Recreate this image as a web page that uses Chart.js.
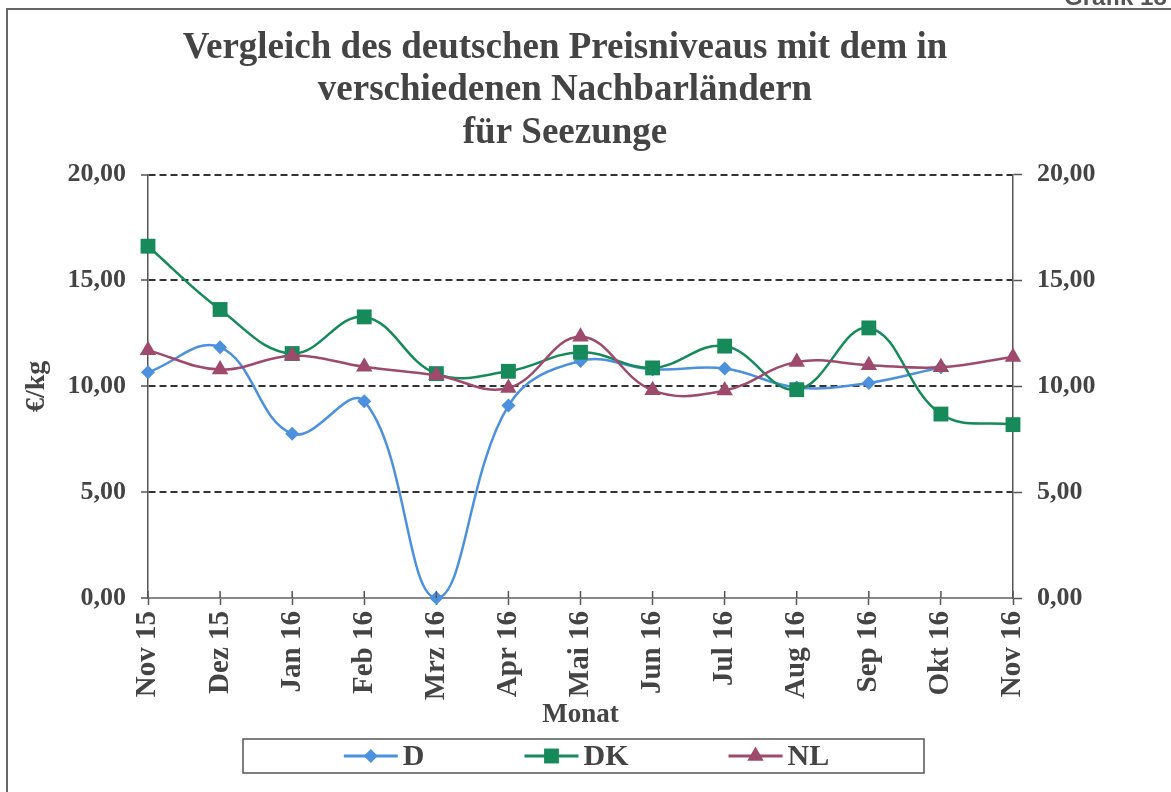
<!DOCTYPE html>
<html>
<head>
<meta charset="utf-8">
<script src="https://cdn.jsdelivr.net/npm/chart.js@4.4.0/dist/chart.umd.min.js"></script>
<style>
  body { margin: 0; background: #fff; }
  #wrap { width: 1171px; height: 792px; }
</style>
</head>
<body>
<div id="wrap"><canvas id="chart" width="1171" height="792"></canvas></div>
<script>
const months = ['Nov 15', 'Dez 15', 'Jan 16', 'Feb 16', 'Mrz 16', 'Apr 16', 'Mai 16', 'Jun 16', 'Jul 16', 'Aug 16', 'Sep 16', 'Okt 16', 'Nov 16'];
const priceD  = [10.66, 11.85, 7.76, 9.29, 0.00, 9.09, 11.20, 10.80, 10.84, 9.95, 10.16, 10.90, null];
const priceDK = [16.62, 13.63, 11.55, 13.28, 10.60, 10.71, 11.61, 10.87, 11.90, 9.84, 12.76, 8.69, 8.19];
const priceNL = [11.70, 10.79, 11.45, 10.92, 10.52, 9.92, 12.34, 9.81, 9.80, 11.15, 11.00, 10.90, 11.39];
const yTicks = [0, 5, 10, 15, 20];

const serif = '"Liberation Serif", "Times New Roman", serif';
const txt = '#444';
const fmt = v => v.toFixed(2).replace('.', ',');

// page frame + cut-off caption at the top
const frame = {
    id: 'frame',
    beforeDraw(chart) {
        const c = chart.ctx;
        c.save();
        c.fillStyle = '#fff';
        c.fillRect(0, 0, chart.width, chart.height);
        c.strokeStyle = '#666';
        c.lineWidth = 2;
        c.beginPath();
        c.moveTo(7, chart.height);
        c.lineTo(7, 9);
        c.lineTo(chart.width, 9);
        c.stroke();
        c.fillStyle = '#555';
        c.font = 'bold 24px "Liberation Sans", Arial, sans-serif';
        c.textBaseline = 'alphabetic';
        c.fillText('Grafik 18', 1064, 5);
        c.restore();
    }
};

// short tick marks above the x axis too (they cross the axis in the original)
const xTicksUp = {
    id: 'xTicksUp',
    afterDatasetsDraw(chart) {
        const x = chart.scales.x, c = chart.ctx, b = chart.chartArea.bottom;
        c.save();
        c.strokeStyle = '#555';
        c.lineWidth = 1.5;
        c.beginPath();
        x.ticks.forEach((t, i) => {
            const px = x.getPixelForTick(i);
            c.moveTo(px, b - 7); c.lineTo(px, b);
        });
        c.stroke();
        c.restore();
    }
};

function marker(c, style, x, y, r) {
    c.beginPath();
    if (style === 'rectRot') {
        c.moveTo(x, y - r); c.lineTo(x + r, y); c.lineTo(x, y + r); c.lineTo(x - r, y);
    } else if (style === 'rect') {
        const s = r * Math.SQRT1_2;
        c.rect(x - s, y - s, 2 * s, 2 * s);
    } else {
        c.moveTo(x, y - r); c.lineTo(x + r * 0.866, y + r / 2); c.lineTo(x - r * 0.866, y + r / 2);
    }
    c.closePath();
    c.fill();
}

// legend box with line + marker samples
const boxLegend = {
    id: 'boxLegend',
    afterDraw(chart) {
        const c = chart.ctx;
        const top = chart.height - 53, h = 34, w = 681;
        const cx = chart.width / 2 - 2, cy = top + h / 2;
        c.save();
        c.strokeStyle = '#555';
        c.lineWidth = 1.5;
        c.strokeRect(cx - w / 2, top, w, h);
        c.font = 'bold 30px ' + serif;
        c.textBaseline = 'middle';
        const items = [0, 1, 2].map(i => chart.data.datasets[i]);
        const lineLen = 54, gap = 5, itemGap = 100;
        const widths = items.map(d => lineLen + gap + c.measureText(d.label).width);
        let x = cx - (widths.reduce((a, b) => a + b, 0) + itemGap * (items.length - 1)) / 2 + 3;
        items.forEach((d, i) => {
            c.strokeStyle = d.borderColor;
            c.lineWidth = 3;
            c.beginPath();
            c.moveTo(x, cy); c.lineTo(x + lineLen, cy);
            c.stroke();
            c.fillStyle = d.pointBackgroundColor;
            marker(c, d.pointStyle, x + lineLen / 2, cy, d.pointRadius);
            c.fillStyle = txt;
            c.fillText(d.label, x + lineLen + gap, cy + 1);
            x += widths[i] + itemGap;
        });
        c.restore();
    }
};

new Chart(document.getElementById('chart'), {
    type: 'line',
    data: {
        labels: months,
        datasets: [
            { label: 'D', data: priceD, borderColor: '#4d90de', pointBackgroundColor: '#4d90de', pointBorderWidth: 0,
              pointStyle: 'rectRot', pointRadius: 7, borderWidth: 2.5, tension: 0.4, clip: false, order: 3 },
            { label: 'DK', data: priceDK, borderColor: '#178a5b', pointBackgroundColor: '#178a5b', pointBorderWidth: 0,
              pointStyle: 'rect', pointRadius: 10.5, borderWidth: 2.5, tension: 0.4, clip: false, order: 2 },
            { label: 'NL', data: priceNL, borderColor: '#9d4a6d', pointBackgroundColor: '#9d4a6d', pointBorderWidth: 0,
              pointStyle: 'triangle', pointRadius: 9.5, borderWidth: 2.5, tension: 0.4, clip: false, order: 1 }
        ]
    },
    options: {
        responsive: false,
        animation: false,
        layout: { padding: { left: 8, right: 49, top: 0, bottom: 54 } },
        plugins: {
            legend: { display: false },
            tooltip: { enabled: false },
            title: {
                display: true,
                text: ['Vergleich des deutschen Preisniveaus mit dem in', 'verschiedenen Nachbarländern', 'für Seezunge'],
                color: txt,
                font: { family: serif, size: 37, weight: 'bold', lineHeight: 1.15 },
                padding: { top: 27, bottom: 20 }
            }
        },
        scales: {
            x: {
                offset: false,
                grid: { drawOnChartArea: false, tickLength: 7, color: '#555', tickColor: '#555', tickWidth: 1.5 },
                border: { color: '#888', width: 2 },
                ticks: { minRotation: 90, maxRotation: 90, autoSkip: false, padding: 6, color: txt,
                         font: { family: serif, size: 29, weight: 'bold' } },
                title: { display: true, text: 'Monat', color: txt, padding: { top: 0, bottom: 7 },
                         font: { family: serif, size: 27, weight: 'bold' } },
                afterFit(s) { s.height = 140; }
            },
            y: {
                position: 'left',
                min: 0, max: 20,
                afterBuildTicks(s) { s.ticks = yTicks.map(v => ({ value: v })); },
                ticks: { padding: 15, color: txt, callback: v => fmt(v),
                         font: { family: serif, size: 26, weight: 'bold' } },
                grid: { color: ctx => (ctx.tick && ctx.tick.value === 0) ? 'rgba(0,0,0,0)' : '#333',
                        lineWidth: 2, tickLength: 7, tickColor: '#555', tickWidth: 1.5 },
                border: { color: '#555', width: 1.5, dash: [7, 4] },
                title: { display: true, text: '€/kg', color: txt, padding: { top: 12, bottom: 0 },
                         font: { family: serif, size: 28, weight: 'bold' } },
                afterFit(s) { s.width = 140; }
            },
            y2: {
                position: 'right',
                min: 0, max: 20,
                afterBuildTicks(s) { s.ticks = yTicks.map(v => ({ value: v })); },
                ticks: { padding: 15, color: txt, callback: v => fmt(v),
                         font: { family: serif, size: 26, weight: 'bold' } },
                grid: { drawOnChartArea: false, tickLength: 9, color: '#555', tickColor: '#555', tickWidth: 1.5 },
                border: { color: '#555', width: 1.5 },
                afterFit(s) { s.width = 109; }
            }
        }
    },
    plugins: [frame, xTicksUp, boxLegend]
});
</script>
</body>
</html>
